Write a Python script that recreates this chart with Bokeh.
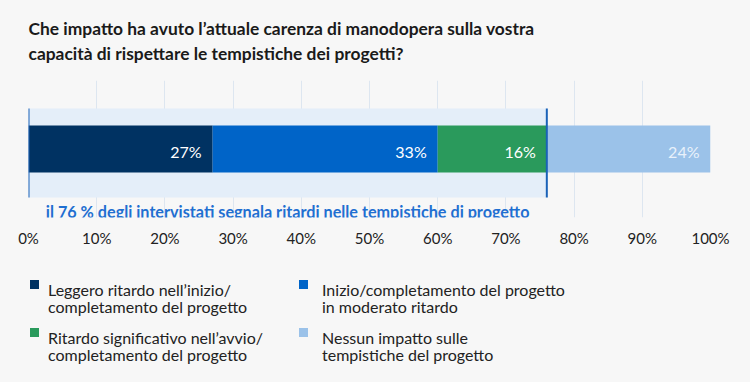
from bokeh.plotting import figure
from bokeh.layouts import column
from bokeh.models import Range1d, FixedTicker, CustomJSTickFormatter
from bokeh.core.properties import value
from bokeh.embed import file_html
from bokeh.resources import INLINE

title_text = "Che impatto ha avuto l’attuale carenza di manodopera sulla vostra\ncapacità di rispettare le tempistiche dei progetti?"
categories = ["Leggero ritardo nell’inizio/\ncompletamento del progetto",
              "Inizio/completamento del progetto\nin moderato ritardo",
              "Ritardo significativo nell’avvio/\ncompletamento del progetto",
              "Nessun impatto sulle\ntempistiche del progetto"]
values = [27, 33, 16, 24]
label_texts = ["27%", "33%", "16%", "24%"]
highlight_value = 76
highlight_text = "il 76 % degli intervistati segnala ritardi nelle tempistiche di progetto"
ticks = [0, 10, 20, 30, 40, 50, 60, 70, 80, 90, 100]

colors = ["#003262", "#0064c8", "#2a9a5c", "#9bc2e9"]
label_colors = ["#ffffff", "#ffffff", "#ffffff", "#e8f1fb"]
BG = "#f7f7f7"
FONT = "Lato"

# ---------------- main chart ----------------
p = figure(width=750, frame_width=682, frame_height=137, output_backend="svg",
           toolbar_location=None, x_range=Range1d(0, 100), y_range=Range1d(0, 137),
           min_border_left=28, min_border_right=40, min_border_top=78, min_border_bottom=40,
           background_fill_color=BG, border_fill_color=BG, outline_line_color=None)

p.title.text = title_text
p.title.text_font = FONT
p.title.text_font_size = "17.4px"
p.title.text_font_style = "bold"
p.title.text_color = "#1a1a1a"
p.title.text_line_height = 1.2
p.title.standoff = 32

p.hbar(y=[64.5], left=[0], right=[highlight_value], height=89,
       fill_color="#e4eef9", line_color=None)

lefts, rights = [], []
acc = 0
for v in values:
    lefts.append(acc)
    acc += v
    rights.append(acc)

for i in range(len(values)):
    p.hbar(y=[68.5], left=[lefts[i]], right=[rights[i]], height=47,
           fill_color=colors[i], line_color=None)

p.text(x=rights, y=[68.5] * len(values), text=label_texts, x_offset=-11, y_offset=2,
       text_align="right", text_baseline="middle", text_color=label_colors,
       text_font=value(FONT), text_font_size="16px")

p.segment(x0=[0, highlight_value], x1=[0, highlight_value], y0=[20, 20], y1=[109, 109],
          line_color="#1a62b8", line_width=2)

p.text(x=[highlight_value / 2], y=[6], text=[highlight_text], text_align="center",
       text_baseline="middle", text_color="#1f6fd1", text_font=value(FONT),
       text_font_size="16.2px", text_font_style="bold")

p.yaxis.visible = False
p.ygrid.grid_line_color = None
p.xaxis.ticker = FixedTicker(ticks=ticks)
p.xaxis.formatter = CustomJSTickFormatter(code="return tick + '%';")
p.xaxis.axis_line_color = None
p.xaxis.major_tick_line_color = None
p.xaxis.minor_tick_line_color = None
p.xaxis.major_label_text_font = FONT
p.xaxis.major_label_text_font_size = "15px"
p.xaxis.major_label_text_color = "#222222"
p.xaxis.major_label_standoff = 5
p.xgrid.ticker = FixedTicker(ticks=ticks)
p.xgrid.grid_line_color = "#dde6f0"

# ---------------- legend ----------------
LEG_TOP = 257
LEG_H = 125
lg = figure(width=750, height=LEG_H, output_backend="svg", toolbar_location=None,
            x_range=Range1d(28, 710), y_range=Range1d(LEG_TOP + LEG_H, LEG_TOP),
            x_axis_type=None, y_axis_type=None, min_border=0,
            background_fill_color=BG, border_fill_color=BG, outline_line_color=None)
lg.xgrid.visible = False
lg.ygrid.visible = False

sq_col_x = [34, 303]
txt_col_x = [47.5, 321.5]
row_base = [289, 337]
sq_x, sq_y, sq_c, t_x, t_y, t_txt = [], [], [], [], [], []
for i, cat in enumerate(categories):
    c = i % 2
    base = row_base[i // 2]
    sq_x.append(sq_col_x[c])
    sq_y.append(base - 5)
    sq_c.append(colors[i])
    for j, line in enumerate(cat.split("\n")):
        t_x.append(txt_col_x[c])
        t_y.append(base + 17 * j)
        t_txt.append(line)

lg.scatter(x=sq_x, y=sq_y, marker="square", size=9, fill_color=sq_c, line_color=None)
lg.text(x=t_x, y=t_y, text=t_txt, text_align="left", text_baseline="alphabetic",
        text_color="#222222", text_font=value(FONT), text_font_size="16px")

layout = column(p, lg, spacing=0)
html = file_html(layout, INLINE)
html = html.replace("<body>", '<body style="background:#f7f7f7">')
open("out.html", "w").write(html)
